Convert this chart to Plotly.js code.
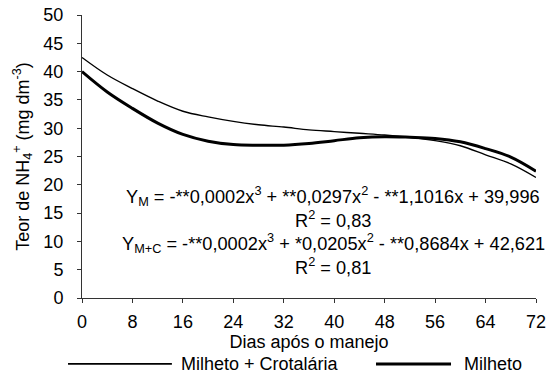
<!DOCTYPE html>
<html><head><meta charset="utf-8">
<script src="https://cdn.plot.ly/plotly-3.0.1.min.js"></script>
<style>html,body{margin:0;padding:0;background:#fff}</style>
</head><body><div id="chart" style="width:552px;height:373px"></div>
<script>
const days = [0,4,8,12,16,20,24,28,32,36,40,44,48,52,56,60,64,68,72];
const milhetoCrotalaria = [42.5,39.4,37.0,34.8,33.0,32.0,31.2,30.6,30.2,29.7,29.4,29.1,28.8,28.4,27.8,26.9,25.3,23.7,21.3];
const milheto = [40.0,36.4,33.5,30.9,28.9,27.7,27.1,27.0,27.0,27.3,27.8,28.3,28.5,28.4,28.2,27.6,26.4,24.9,22.4];
const xTicks = [0,8,16,24,32,40,48,56,64,72];
const yTicks = [0,5,10,15,20,25,30,35,40,45,50];
const seriesNames = ["Milheto + Crotalária","Milheto"];
const equations = [
  "Y<sub>M</sub> = -**0,0002x<sup>3</sup> + **0,0297x<sup>2</sup> - **1,1016x + 39,996",
  "R<sup>2</sup> = 0,83",
  "Y<sub>M+C</sub> = -**0,0002x<sup>3</sup> + *0,0205x<sup>2</sup> - **0,8684x + 42,621",
  "R<sup>2</sup> = 0,81"
];

const FONT = "Arial, 'Liberation Sans', sans-serif";
const traces = [
  {x: days, y: milhetoCrotalaria, name: seriesNames[0], type: "scatter", mode: "lines",
   line: {color: "#000", width: 1.4, shape: "spline"}},
  {x: days, y: milheto, name: seriesNames[1], type: "scatter", mode: "lines",
   line: {color: "#000", width: 3, shape: "spline"}}
];
const eqY = [0.359, 0.279, 0.193, 0.114];
const annotations = equations.map((t, i) => ({
  text: t, xref: "paper", yref: "paper", x: 0.553, y: eqY[i],
  xanchor: "center", yanchor: "middle", showarrow: false, borderpad: 0,
  font: {family: FONT, size: 18.2, color: "#000"}
}));
const legY = -0.233;
annotations.push({text: seriesNames[0], xref: "paper", yref: "paper", x: 0.2137, y: legY,
  xanchor: "left", yanchor: "middle", showarrow: false, font: {family: FONT, size: 18, color: "#000"}});
annotations.push({text: seriesNames[1], xref: "paper", yref: "paper", x: 0.8363, y: legY,
  xanchor: "left", yanchor: "middle", showarrow: false, font: {family: FONT, size: 18, color: "#000"}});
const shapes = [
  {type: "line", xref: "paper", yref: "paper", x0: -0.0308, x1: 0.198, y0: legY, y1: legY, line: {color: "#000", width: 1.8}},
  {type: "line", xref: "paper", yref: "paper", x0: 0.6476, x1: 0.8128, y0: legY, y1: legY, line: {color: "#000", width: 3}}
];
const layout = {
  width: 552, height: 373,
  margin: {l: 82, r: 16, t: 15, b: 75},
  paper_bgcolor: "#fff", plot_bgcolor: "#fff",
  showlegend: false,
  font: {family: FONT, size: 18, color: "#000"},
  xaxis: {range: [0, 72], tickvals: xTicks, ticktext: xTicks.map(String),
    showline: true, linecolor: "#333", linewidth: 1, ticks: "outside", ticklen: 4, tickcolor: "#333",
    showgrid: false, zeroline: false, fixedrange: true, ticklabelstandoff: 3,
    tickfont: {family: FONT, size: 18},
    title: {text: "Dias após o manejo", font: {family: FONT, size: 18}, standoff: 3}},
  yaxis: {range: [0, 50], tickvals: yTicks, ticktext: yTicks.map(String),
    showline: true, linecolor: "#333", linewidth: 1, ticks: "outside", ticklen: 4, tickcolor: "#333",
    showgrid: false, zeroline: false, fixedrange: true, ticklabelstandoff: 10,
    tickfont: {family: FONT, size: 18},
    title: {text: "Teor de NH<sub>4</sub><sup>+</sup> (mg dm<sup>-3</sup>)", font: {family: FONT, size: 18}, standoff: 9}},
  annotations: annotations,
  shapes: shapes
};
Plotly.newPlot("chart", traces, layout, {displayModeBar: false, staticPlot: true});
</script></body></html>
